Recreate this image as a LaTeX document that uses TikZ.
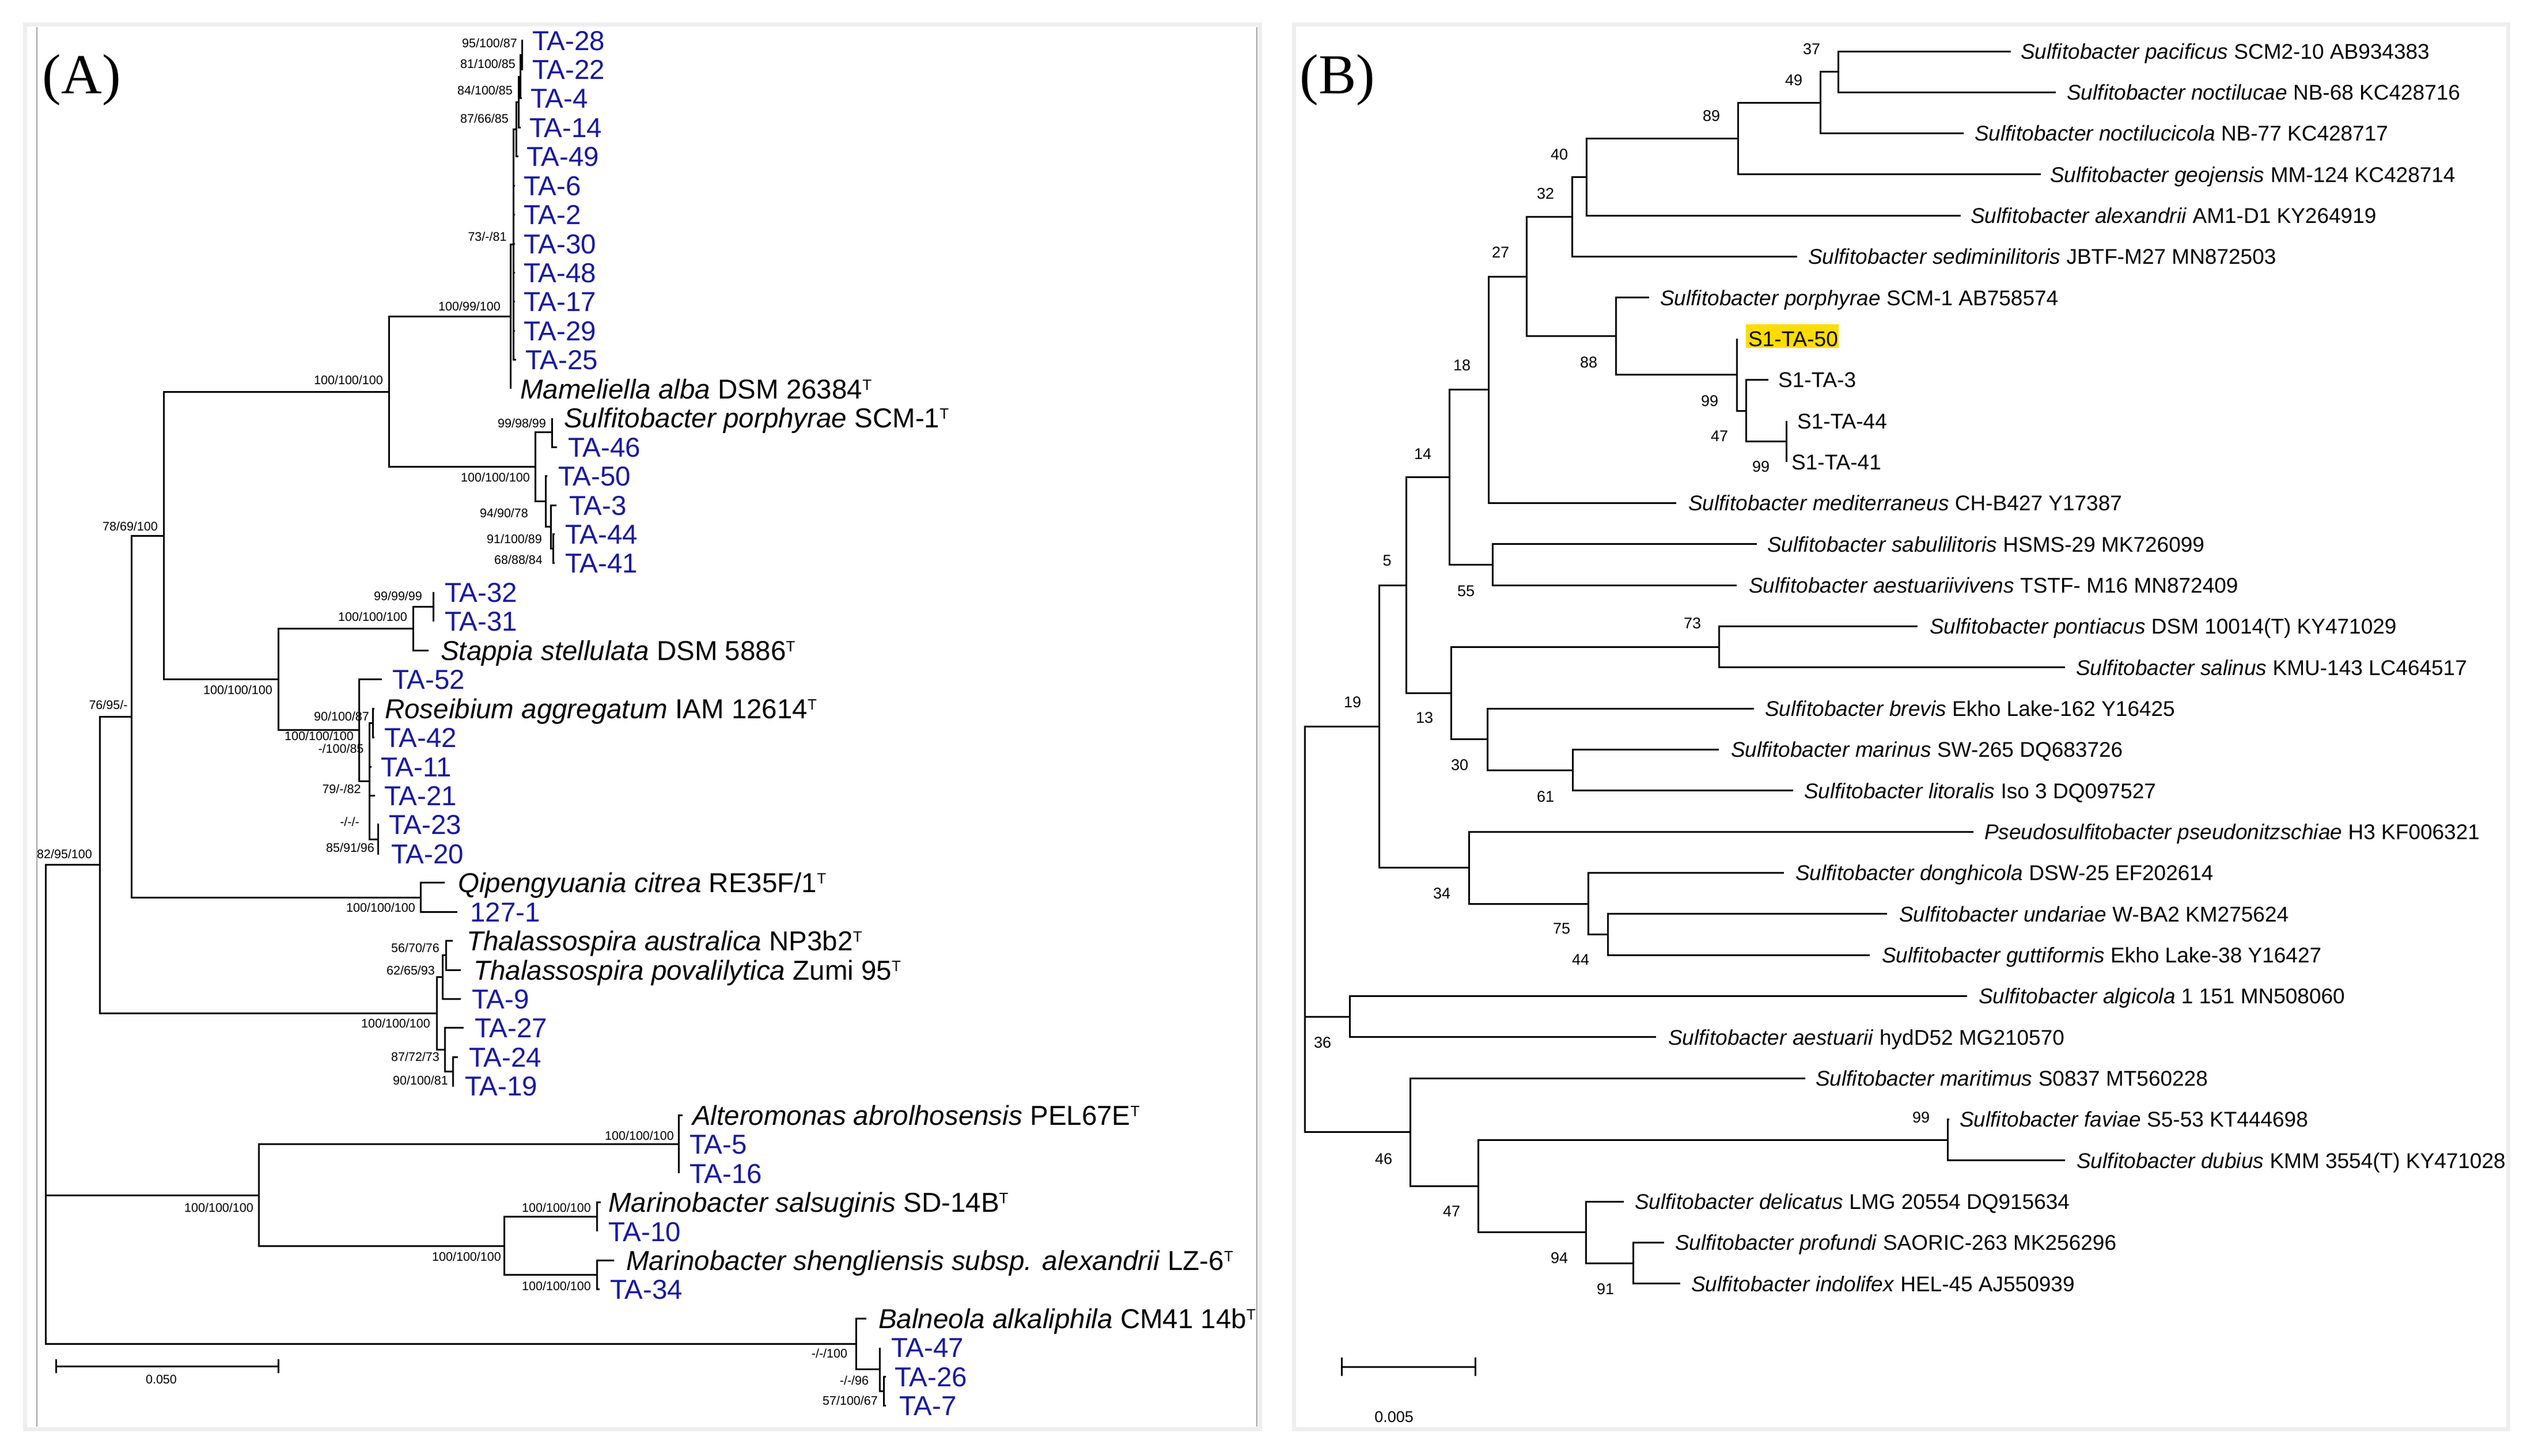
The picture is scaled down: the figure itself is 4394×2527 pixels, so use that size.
\documentclass[tikz,border=0pt]{standalone}
\usepackage{fontspec}
\usetikzlibrary{calc}
\newfontfamily\arialf{Liberation Sans}
\newfontfamily\timesf{Liberation Serif}
\definecolor{tablue}{RGB}{25,25,160}
\definecolor{hlyellow}{RGB}{255,220,0}
\definecolor{framegray}{RGB}{238,238,238}
\definecolor{edgegray}{RGB}{165,165,165}
\newcommand\supT{\raisebox{15pt}{\fontsize{26}{26}\selectfont T}}
\tikzset{
  br/.style={line width=3pt, line join=miter, line cap=butt},
  leafA/.style={font=\arialf\fontsize{47.5}{48}\selectfont, anchor=base west, inner sep=0pt, yshift=-17pt},
  taA/.style={leafA, text=tablue},
  spA/.style={leafA, text=black},
  bsA/.style={font=\arialf\fontsize{21.5}{22}\selectfont, inner sep=0pt, text=black},
  leafB/.style={font=\arialf\fontsize{37}{37}\selectfont, anchor=base west, inner sep=0pt, yshift=-13.3pt},
  bsB/.style={font=\arialf\fontsize{27}{27}\selectfont, inner sep=0pt},
  panellab/.style={font=\timesf\fontsize{98}{98}\selectfont, inner sep=0pt},
  panelframe/.style={draw=framegray, line width=7pt},
  sbar/.style={line width=3pt},
}
\begin{document}
\begin{tikzpicture}[x=1pt,y=-1pt]
\useasboundingbox (0,0) rectangle (4394,2527);
\fill[white] (0,0) rectangle (4394,2527);
\draw[panelframe] (43,42) rectangle (2187,2481);
\draw[panelframe] (2246,42) rectangle (4354,2481);
\draw[edgegray, line width=2pt] (64,47) -- (64,2477);
\draw[edgegray, line width=2pt] (2182,47) -- (2182,2477);

\node[panellab] (labA) at (142,139) {(A)};
\node[panellab] (labB) at (2322,139) {(B)};

% ================= PANEL A leaves =================
\coordinate (A28t) at (908,70.00);   \node[taA] (A28) at (924,70.00) {TA-28};
\coordinate (A22t) at (908,120.44);  \node[taA] (A22) at (924,120.44) {TA-22};
\coordinate (A4t) at (906,170.88);   \node[taA] (A4) at (921,170.88) {TA-4};
\coordinate (A14t) at (904,221.32);  \node[taA] (A14) at (919,221.32) {TA-14};
\coordinate (A49t) at (900,271.76);  \node[taA] (A49) at (914,271.76) {TA-49};
\coordinate (A6t) at (894,322.20);   \node[taA] (A6) at (909,322.20) {TA-6};
\coordinate (A2t) at (894,372.64);   \node[taA] (A2) at (909,372.64) {TA-2};
\coordinate (A30t) at (894,423.08);  \node[taA] (A30) at (909,423.08) {TA-30};
\coordinate (A48t) at (894,473.52);  \node[taA] (A48) at (909,473.52) {TA-48};
\coordinate (A17t) at (894,523.96);  \node[taA] (A17) at (909,523.96) {TA-17};
\coordinate (A29t) at (894,574.40);  \node[taA] (A29) at (909,574.40) {TA-29};
\coordinate (A25t) at (896,624.84);  \node[taA] (A25) at (912,624.84) {TA-25};
\coordinate (Mamt) at (886,675.28);  \node[spA] (Mam) at (903,675.28) {\textit{Mameliella alba} DSM 26384\supT};
\coordinate (Sport) at (958,725.72); \node[spA] (Spor) at (979,725.72) {\textit{Sulfitobacter porphyrae} SCM-1\supT};
\coordinate (A46t) at (967,776.16);  \node[taA] (A46) at (986,776.16) {TA-46};
\coordinate (A50t) at (950,826.60);  \node[taA] (A50) at (969,826.60) {TA-50};
\coordinate (A3t) at (966,877.04);   \node[taA] (A3) at (988,877.04) {TA-3};
\coordinate (A44t) at (963,927.48);  \node[taA] (A44) at (981,927.48) {TA-44};
\coordinate (A41t) at (963,977.92);  \node[taA] (A41) at (981,977.92) {TA-41};
\coordinate (A32t) at (752,1028.36); \node[taA] (A32) at (772,1028.36) {TA-32};
\coordinate (A31t) at (752,1078.80); \node[taA] (A31) at (772,1078.80) {TA-31};
\coordinate (Stapt) at (744,1129.24); \node[spA] (Stap) at (765,1129.24) {\textit{Stappia stellulata} DSM 5886\supT};
\coordinate (A52t) at (663,1179.68); \node[taA] (A52) at (681,1179.68) {TA-52};
\coordinate (Roset) at (650,1230.12); \node[spA] (Rose) at (668,1230.12) {\textit{Roseibium aggregatum} IAM 12614\supT};
\coordinate (A42t) at (650,1280.56); \node[taA] (A42) at (667,1280.56) {TA-42};
\coordinate (A11t) at (645,1331.00); \node[taA] (A11) at (661,1331.00) {TA-11};
\coordinate (A21t) at (651,1381.44); \node[taA] (A21) at (667,1381.44) {TA-21};
\coordinate (A23t) at (658,1431.88); \node[taA] (A23) at (675,1431.88) {TA-23};
\coordinate (A20t) at (658,1482.32); \node[taA] (A20) at (679,1482.32) {TA-20};
\coordinate (Qipt) at (772,1532.76); \node[spA] (Qip) at (795,1532.76) {\textit{Qipengyuania citrea} RE35F/1\supT};
\coordinate (A127t) at (794,1583.20); \node[taA] (A127) at (816,1583.20) {127-1};
\coordinate (Taust) at (786,1633.64); \node[spA] (Taus) at (810,1633.64) {\textit{Thalassospira australica} NP3b2\supT};
\coordinate (Tpovt) at (800,1684.08); \node[spA] (Tpov) at (822,1684.08) {\textit{Thalassospira povalilytica} Zumi 95\supT};
\coordinate (A9t) at (800,1734.52);  \node[taA] (A9) at (819,1734.52) {TA-9};
\coordinate (A27t) at (805,1784.96); \node[taA] (A27) at (824,1784.96) {TA-27};
\coordinate (A24t) at (795,1835.40); \node[taA] (A24) at (814,1835.40) {TA-24};
\coordinate (A19t) at (788,1885.84); \node[taA] (A19) at (807,1885.84) {TA-19};
\coordinate (Altt) at (1185,1936.28); \node[spA] (Alt) at (1202,1936.28) {\textit{Alteromonas abrolhosensis} PEL67E\supT};
\coordinate (A5t) at (1178,1986.72); \node[taA] (A5) at (1197,1986.72) {TA-5};
\coordinate (A16t) at (1178,2037.16); \node[taA] (A16) at (1197,2037.16) {TA-16};
\coordinate (Msalt) at (1043,2087.60); \node[spA] (Msal) at (1056,2087.60) {\textit{Marinobacter salsuginis} SD-14B\supT};
\coordinate (A10t) at (1036,2138.04); \node[taA] (A10) at (1056,2138.04) {TA-10};
\coordinate (Msht) at (1066,2188.48); \node[spA] (Msh) at (1087,2188.48) {\textit{Marinobacter shengliensis subsp. alexandrii} LZ-6\supT};
\coordinate (A34t) at (1041,2238.92); \node[taA] (A34) at (1059,2238.92) {TA-34};
\coordinate (Balnt) at (1504,2289.36); \node[spA] (Baln) at (1525,2289.36) {\textit{Balneola alkaliphila} CM41 14b\supT};
\coordinate (A47t) at (1527,2339.80); \node[taA] (A47) at (1547,2339.80) {TA-47};
\coordinate (A26t) at (1538,2390.24); \node[taA] (A26) at (1553,2390.24) {TA-26};
\coordinate (A7t) at (1538,2440.68); \node[taA] (A7) at (1561,2440.68) {TA-7};

% ================= PANEL A internal nodes =================
\coordinate (n1) at (906,95.22);
\coordinate (n2) at (903,133.05);
\coordinate (n3) at (900,177.19);
\coordinate (n4) at (896,224.48);
\coordinate (n5) at (891,424.66);
\coordinate (n6) at (886,549.97);
\coordinate (p1) at (958,750.94);
\coordinate (p5) at (960,952.70);
\coordinate (p4) at (956,914.87);
\coordinate (p3) at (947,870.74);
\coordinate (p2) at (929,810.84);
\coordinate (q1) at (675,680.41);
\coordinate (q6) at (752,1053.58);
\coordinate (q4) at (717,1091.41);
\coordinate (r1) at (647,1255.34);
\coordinate (r4) at (656,1457.10);
\coordinate (q7) at (641,1356.22);
\coordinate (q5) at (623,1267.95);
\coordinate (q3) at (483,1179.68);
\coordinate (q2) at (284,930.05);
\coordinate (s1) at (730,1557.98);
\coordinate (q8) at (228,1244.02);
\coordinate (t3) at (774,1658.86);
\coordinate (t2) at (768,1696.69);
\coordinate (t5) at (786,1860.62);
\coordinate (t4) at (772,1822.79);
\coordinate (t1) at (758,1759.74);
\coordinate (q9) at (173,1501.88);
\coordinate (u2) at (1178,1986.72);
\coordinate (u4) at (1036,2112.82);
\coordinate (u5) at (1036,2213.70);
\coordinate (u3) at (875,2163.26);
\coordinate (u1) at (449,2074.99);
\coordinate (v3) at (1534,2415.46);
\coordinate (v2) at (1527,2377.63);
\coordinate (v1) at (1486,2333.50);
\coordinate (rA) at (79,1917);

% ================= PANEL A branches =================
\draw[br] (A28t) -| (n1) |- (A22t);
\draw[br] (n1) -| (n2) |- (A4t);
\draw[br] (n2) -| (n3) |- (A14t);
\draw[br] (n3) -| (n4) |- (A49t);
\draw[br] (n4) -| (n5) |- (A25t);
\foreach \c in {A6t,A2t,A30t,A48t,A17t,A29t} \draw[br] (n5 |- \c) -- (\c);
\draw[br] (n5) -| (n6) |- (Mamt);
\draw[br] (n6) -| (q1) |- (p2);
\draw[br] (Sport) -| (p1) |- (A46t);
\draw[br] (p1) -| (p2) |- (p3);
\draw[br] (A50t) -| (p3) |- (p4);
\draw[br] (A3t) -| (p4) |- (p5);
\draw[br] (A44t) -| (p5) |- (A41t);
\draw[br] (q1) -| (q2) |- (q3);
\draw[br] (q4) -| (q3) |- (q5);
\draw[br] (q6) -| (q4) |- (Stapt);
\draw[br] (A32t) -| (q6) |- (A31t);
\draw[br] (A52t) -| (q5) |- (q7);
\draw[br] (r1) -| (q7) |- (r4);
\draw[br] (q7 |- A11t) -- (A11t);
\draw[br] (q7 |- A21t) -- (A21t);
\draw[br] (Roset) -| (r1) |- (A42t);
\draw[br] (A23t) -| (r4) |- (A20t);
\draw[br] (q2) -| (q8) |- (s1);
\draw[br] (Qipt) -| (s1) |- (A127t);
\draw[br] (q8) -| (q9) |- (t1);
\draw[br] (t2) -| (t1) |- (t4);
\draw[br] (t3) -| (t2) |- (A9t);
\draw[br] (Taust) -| (t3) |- (Tpovt);
\draw[br] (A27t) -| (t4) |- (t5);
\draw[br] (A24t) -| (t5) |- (A19t);
\draw[br] (q9) -| (rA) |- (v1);
\draw[br] (rA |- u1) -- (u1);
\draw[br] (u2) -| (u1) |- (u3);
\draw[br] (Altt) -| (u2) |- (A16t);
\draw[br] (u4) -| (u3) |- (u5);
\draw[br] (Msalt) -| (u4) |- (A10t);
\draw[br] (Msht) -| (u5) |- (A34t);
\draw[br] (Balnt) -| (v1) |- (v2);
\draw[br] (A47t) -| (v2) |- (v3);
\draw[br] (A26t) -| (v3) |- (A7t);

% ================= PANEL A support values =================
\node[bsA] (bA1) at (850,75) {95/100/87};
\node[bsA] (bA2) at (847,111) {81/100/85};
\node[bsA] (bA3) at (842,157) {84/100/85};
\node[bsA] (bA4) at (841,206) {87/66/85};
\node[bsA] (bA5) at (846,411) {73/-/81};
\node[bsA] (bA6) at (815,532) {100/99/100};
\node[bsA] (bA7) at (605,660) {100/100/100};
\node[bsA] (bA8) at (906,735) {99/98/99};
\node[bsA] (bA9) at (860,829) {100/100/100};
\node[bsA] (bA10) at (875,891) {94/90/78};
\node[bsA] (bA11) at (893,936) {91/100/89};
\node[bsA] (bA12) at (900,972) {68/88/84};
\node[bsA] (bA13) at (226,914) {78/69/100};
\node[bsA] (bA14) at (691,1035) {99/99/99};
\node[bsA] (bA15) at (647,1071) {100/100/100};
\node[bsA] (bA16) at (413,1198) {100/100/100};
\node[bsA] (bA17) at (593,1244) {90/100/87};
\node[bsA] (bA18) at (554,1278) {100/100/100};
\node[bsA] (bA19) at (592,1300) {-/100/85};
\node[bsA] (bA20) at (593,1370) {79/-/82};
\node[bsA] (bA21) at (607,1427) {-/-/-};
\node[bsA] (bA22) at (608,1472) {85/91/96};
\node[bsA] (bA23) at (661,1576) {100/100/100};
\node[bsA] (bA24) at (188,1224) {76/95/-};
\node[bsA] (bA25) at (112,1483) {82/95/100};
\node[bsA] (bA26) at (721,1646) {56/70/76};
\node[bsA] (bA27) at (713,1685) {62/65/93};
\node[bsA] (bA28) at (687,1777) {100/100/100};
\node[bsA] (bA29) at (721,1835) {87/72/73};
\node[bsA] (bA30) at (730,1876) {90/100/81};
\node[bsA] (bA31) at (1110,1972) {100/100/100};
\node[bsA] (bA32) at (380,2097) {100/100/100};
\node[bsA] (bA33) at (966,2097) {100/100/100};
\node[bsA] (bA34) at (810,2182) {100/100/100};
\node[bsA] (bA35) at (966,2233) {100/100/100};
\node[bsA] (bA36) at (1440,2350) {-/-/100};
\node[bsA] (bA37) at (1483,2397) {-/-/96};
\node[bsA] (bA38) at (1476,2432) {57/100/67};

% scale bar A
\coordinate (sa1) at (97,2372);
\coordinate (sa2) at (483,2372);
\draw[sbar] (sa1) -- (sa2);
\draw[sbar] ($(sa1)+(0,-12)$) -- ($(sa1)+(0,12)$);
\draw[sbar] ($(sa2)+(0,-12)$) -- ($(sa2)+(0,12)$);
\node[bsA] (saL) at (280,2395) {0.050};

% ================= PANEL B leaves =================
\coordinate (B0t) at (3491,89.00);   \node[leafB] (B0) at (3508,89.00) {\textit{Sulfitobacter pacificus} SCM2-10 AB934383};
\coordinate (B1t) at (3569,160.33);  \node[leafB] (B1) at (3588,160.33) {\textit{Sulfitobacter noctilucae} NB-68 KC428716};
\coordinate (B2t) at (3409,231.66);  \node[leafB] (B2) at (3428,231.66) {\textit{Sulfitobacter noctilucicola} NB-77 KC428717};
\coordinate (B3t) at (3543,302.99);  \node[leafB] (B3) at (3559,302.99) {\textit{Sulfitobacter geojensis} MM-124 KC428714};
\coordinate (B4t) at (3404,374.32);  \node[leafB] (B4) at (3421,374.32) {\textit{Sulfitobacter alexandrii} AM1-D1 KY264919};
\coordinate (B5t) at (3120,445.65);  \node[leafB] (B5) at (3139,445.65) {\textit{Sulfitobacter sediminilitoris} JBTF-M27 MN872503};
\coordinate (B6t) at (2863,516.98);  \node[leafB] (B6) at (2882,516.98) {\textit{Sulfitobacter porphyrae} SCM-1 AB758574};
\fill[hlyellow] (3031,563) rectangle (3192,604);
\coordinate (B7t) at (3015,588.31);  \node[leafB] (B7) at (3035,588.31) {S1-TA-50};
\coordinate (B8t) at (3070,659.64);  \node[leafB] (B8) at (3087,659.64) {S1-TA-3};
\coordinate (B9t) at (3101,730.97);  \node[leafB] (B9) at (3120,730.97) {S1-TA-44};
\coordinate (B10t) at (3101,802.30); \node[leafB] (B10) at (3110,802.30) {S1-TA-41};
\coordinate (B11t) at (2910,873.63); \node[leafB] (B11) at (2931,873.63) {\textit{Sulfitobacter mediterraneus} CH-B427 Y17387};
\coordinate (B12t) at (3050,944.96); \node[leafB] (B12) at (3068,944.96) {\textit{Sulfitobacter sabulilitoris} HSMS-29 MK726099};
\coordinate (B13t) at (3015,1016.29); \node[leafB] (B13) at (3036,1016.29) {\textit{Sulfitobacter aestuariivivens} TSTF- M16 MN872409};
\coordinate (B14t) at (3329,1087.62); \node[leafB] (B14) at (3350,1087.62) {\textit{Sulfitobacter pontiacus} DSM 10014(T) KY471029};
\coordinate (B15t) at (3585,1158.95); \node[leafB] (B15) at (3604,1158.95) {\textit{Sulfitobacter salinus} KMU-143 LC464517};
\coordinate (B16t) at (3045,1230.28); \node[leafB] (B16) at (3064,1230.28) {\textit{Sulfitobacter brevis} Ekho Lake-162 Y16425};
\coordinate (B17t) at (2984,1301.61); \node[leafB] (B17) at (3005,1301.61) {\textit{Sulfitobacter marinus} SW-265 DQ683726};
\coordinate (B18t) at (3113,1372.94); \node[leafB] (B18) at (3132,1372.94) {\textit{Sulfitobacter litoralis} Iso 3 DQ097527};
\coordinate (B19t) at (3426,1444.27); \node[leafB] (B19) at (3445,1444.27) {\textit{Pseudosulfitobacter pseudonitzschiae} H3 KF006321};
\coordinate (B20t) at (3097,1515.60); \node[leafB] (B20) at (3117,1515.60) {\textit{Sulfitobacter donghicola} DSW-25 EF202614};
\coordinate (B21t) at (3276,1586.93); \node[leafB] (B21) at (3297,1586.93) {\textit{Sulfitobacter undariae} W-BA2 KM275624};
\coordinate (B22t) at (3246,1658.26); \node[leafB] (B22) at (3267,1658.26) {\textit{Sulfitobacter guttiformis} Ekho Lake-38 Y16427};
\coordinate (B23t) at (3415,1729.59); \node[leafB] (B23) at (3435,1729.59) {\textit{Sulfitobacter algicola} 1 151 MN508060};
\coordinate (B24t) at (2875,1800.92); \node[leafB] (B24) at (2896,1800.92) {\textit{Sulfitobacter aestuarii} hydD52 MG210570};
\coordinate (B25t) at (3134,1872.25); \node[leafB] (B25) at (3152,1872.25) {\textit{Sulfitobacter maritimus} S0837 MT560228};
\coordinate (B26t) at (3384,1943.58); \node[leafB] (B26) at (3402,1943.58) {\textit{Sulfitobacter faviae} S5-53 KT444698};
\coordinate (B27t) at (3585,2014.91); \node[leafB] (B27) at (3605,2014.91) {\textit{Sulfitobacter dubius} KMM 3554(T) KY471028};
\coordinate (B28t) at (2819,2086.24); \node[leafB] (B28) at (2838,2086.24) {\textit{Sulfitobacter delicatus} LMG 20554 DQ915634};
\coordinate (B29t) at (2889,2157.57); \node[leafB] (B29) at (2908,2157.57) {\textit{Sulfitobacter profundi} SAORIC-263 MK256296};
\coordinate (B30t) at (2917,2228.90); \node[leafB] (B30) at (2936,2228.90) {\textit{Sulfitobacter indolifex} HEL-45 AJ550939};

% ================= PANEL B internal nodes =================
\coordinate (b1) at (3191,124.67);
\coordinate (b2) at (3160,178.17);
\coordinate (b3) at (3017,240.58);
\coordinate (b4) at (2754,307.45);
\coordinate (b5) at (2729,376.55);
\coordinate (b10) at (3101,766.64);
\coordinate (b9) at (3031,713.14);
\coordinate (b8) at (3015,650.73);
\coordinate (b7) at (2805,583.86);
\coordinate (b6) at (2650,480.21);
\coordinate (b11) at (2584,676.92);
\coordinate (b13) at (2591,980.63);
\coordinate (b12) at (2516,828.78);
\coordinate (b16) at (2984,1123.29);
\coordinate (b18) at (2730,1337.28);
\coordinate (b17) at (2582,1283.78);
\coordinate (b15) at (2519,1203.54);
\coordinate (b14) at (2441,1016.16);
\coordinate (b22) at (2791,1622.60);
\coordinate (b21) at (2757,1569.10);
\coordinate (b20) at (2550,1506.69);
\coordinate (b19) at (2394,1261.43);
\coordinate (b23) at (2343,1765.26);
\coordinate (b26) at (3381,1979.25);
\coordinate (b28) at (2835,2193.24);
\coordinate (b27) at (2753,2139.74);
\coordinate (b25) at (2566,2059.50);
\coordinate (b24) at (2448,1965.88);
\coordinate (rB) at (2265,1613);

% ================= PANEL B branches =================
\draw[br] (B0t) -| (b1) |- (B1t);
\draw[br] (b1) -| (b2) |- (B2t);
\draw[br] (b2) -| (b3) |- (B3t);
\draw[br] (b3) -| (b4) |- (B4t);
\draw[br] (b4) -| (b5) |- (B5t);
\draw[br] (b5) -| (b6) |- (b7);
\draw[br] (B6t) -| (b7) |- (b8);
\draw[br] (B7t) -| (b8) |- (b9);
\draw[br] (B8t) -| (b9) |- (b10);
\draw[br] (B9t) -| (b10) |- (B10t);
\draw[br] (b6) -| (b11) |- (B11t);
\draw[br] (b11) -| (b12) |- (b13);
\draw[br] (B12t) -| (b13) |- (B13t);
\draw[br] (b12) -| (b14) |- (b15);
\draw[br] (b16) -| (b15) |- (b17);
\draw[br] (B14t) -| (b16) |- (B15t);
\draw[br] (B16t) -| (b17) |- (b18);
\draw[br] (B17t) -| (b18) |- (B18t);
\draw[br] (b14) -| (b19) |- (b20);
\draw[br] (B19t) -| (b20) |- (b21);
\draw[br] (B20t) -| (b21) |- (b22);
\draw[br] (B21t) -| (b22) |- (B22t);
\draw[br] (b19) -| (rB) |- (b24);
\draw[br] (rB |- b23) -- (b23);
\draw[br] (B23t) -| (b23) |- (B24t);
\draw[br] (B25t) -| (b24) |- (b25);
\draw[br] (b26) -| (b25) |- (b27);
\draw[br] (B26t) -| (b26) |- (B27t);
\draw[br] (B28t) -| (b27) |- (b28);
\draw[br] (B29t) -| (b28) |- (B30t);

% ================= PANEL B support values =================
\node[bsB] (bB1) at (3145,85) {37};
\node[bsB] (bB2) at (3114,139) {49};
\node[bsB] (bB3) at (2971,201) {89};
\node[bsB] (bB4) at (2707,268) {40};
\node[bsB] (bB5) at (2683,336) {32};
\node[bsB] (bB6) at (2605,438) {27};
\node[bsB] (bB7) at (2758,629) {88};
\node[bsB] (bB8) at (2968,696) {99};
\node[bsB] (bB9) at (2985,757) {47};
\node[bsB] (bB10) at (3057,810) {99};
\node[bsB] (bB11) at (2538,634) {18};
\node[bsB] (bB12) at (2470,788) {14};
\node[bsB] (bB13) at (2545,1026) {55};
\node[bsB] (bB14) at (2408,973) {5};
\node[bsB] (bB15) at (2938,1082) {73};
\node[bsB] (bB16) at (2473,1246) {13};
\node[bsB] (bB17) at (2534,1328) {30};
\node[bsB] (bB18) at (2683,1383) {61};
\node[bsB] (bB19) at (2348,1219) {19};
\node[bsB] (bB20) at (2503,1551) {34};
\node[bsB] (bB21) at (2711,1612) {75};
\node[bsB] (bB22) at (2744,1666) {44};
\node[bsB] (bB23) at (2296,1810) {36};
\node[bsB] (bB24) at (2402,2012) {46};
\node[bsB] (bB25) at (2520,2103) {47};
\node[bsB] (bB26) at (3335,1940) {99};
\node[bsB] (bB27) at (2707,2184) {94};
\node[bsB] (bB28) at (2787,2238) {91};

% scale bar B
\coordinate (sb1) at (2329,2373);
\coordinate (sb2) at (2561,2373);
\draw[sbar] (sb1) -- (sb2);
\draw[sbar] ($(sb1)+(0,-16)$) -- ($(sb1)+(0,16)$);
\draw[sbar] ($(sb2)+(0,-16)$) -- ($(sb2)+(0,16)$);
\node[bsB] (sbL) at (2420,2460) {0.005};
\end{tikzpicture}
\end{document}
